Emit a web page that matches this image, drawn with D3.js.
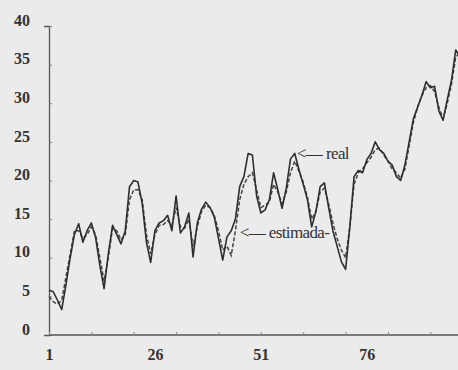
<!DOCTYPE html>
<html>
<head>
<meta charset="utf-8">
<script src="https://cdn.jsdelivr.net/npm/d3@7"></script>
<style>
  html, body { margin: 0; padding: 0; background: #ebebeb; }
  svg { display: block; }
</style>
</head>
<body>
<div id="chart"></div>
<script>
// Observation number for each sample (1..98)
const periods = d3.range(1, 99);

// Observed series (solid line)
const real = [
  5.8, 5.6, 4.5, 3.3, 6.5, 10, 13, 14.4, 12.0, 13.5,
  14.5, 12.6, 9, 6.0, 10.5, 14.2, 13.0, 11.8, 13.5, 19.2,
  20.0, 19.8, 17.0, 12, 9.4, 13.5, 14.5, 14.8, 15.5, 13.5,
  18.0, 13.2, 14.0, 15.8, 10.1, 14.5, 16.3, 17.2, 16.5, 15.3,
  12.5, 9.7, 12.7, 13.5, 15, 19.2, 20.5, 23.5, 23.3, 18,
  15.8, 16.2, 17.5, 21, 18.8, 16.4, 19, 22.8, 23.5, 21.4,
  19.5, 17.5, 14.0, 16, 19.2, 19.7, 16.5, 13.5, 11.5, 9.5,
  8.5, 14, 20.5, 21.3, 21, 22.7, 23.5, 25, 24, 23.5,
  22.5, 22, 20.5, 20, 22, 25, 28, 29.5, 31, 32.8,
  32, 32.2, 29, 27.8, 30.5, 33, 36.9, 36
];

// Fitted series (dashed line)
const estimada = [
  5.0, 4.3, 4.0, 4.5, 7.5, 10.5, 13.5, 13.5, 12.5, 13.0,
  14.0, 13.0, 10, 7.0, 10, 13.8, 13.5, 12.3, 13.0, 17.5,
  18.8, 18.8, 17.5, 13, 10.5, 13, 14.2, 14.3, 14.8, 14.2,
  16.5, 14, 13.8, 15, 11.5, 14, 16.0, 16.8, 16.5, 15.5,
  13.5, 11, 11.5, 10.3, 13.5, 17.5, 19.5, 20.5, 21, 18.8,
  16.5, 16.8, 17.2, 19.5, 18.5, 17, 18.5, 21, 22.5, 21.2,
  19.8, 17.8, 15, 16, 18.5, 19, 17, 14.5, 12.5, 11,
  10, 14, 19.5, 21, 21.5, 22.3, 23, 24, 24.2, 23.3,
  22.5, 21.5, 21, 20.3, 21.5, 24.5, 27.5, 29.5, 31, 32,
  32.3, 31.5, 29.5, 28, 30, 32.5, 36, 36.5
];

// Axis ticks and labels
const yTicks = [0, 5, 10, 15, 20, 25, 30, 35, 40];
const xTickMarks = [1, 11, 21, 31, 41, 51, 61, 71, 81, 91];
const xTickLabels = [1, 26, 51, 76];

const W = 458, H = 370;
const svg = d3.select("#chart").append("svg")
  .attr("width", W).attr("height", H);

const x = d3.scaleLinear().domain([1, 98]).range([49, 460]);
const y = d3.scaleLinear().domain([0, 40]).range([335, 26]);

const ink = "#333";
const font = "'Liberation Serif', 'DejaVu Serif', serif";

// Y axis
const yAxis = svg.append("g")
  .attr("transform", `translate(${x(1)},0)`)
  .call(d3.axisLeft(y).tickValues(yTicks).tickSize(5).tickPadding(14));
yAxis.select(".domain").attr("stroke", "#555").attr("stroke-width", 1.3);
yAxis.selectAll(".tick line").attr("stroke", "#777").attr("stroke-width", 1).attr("x2", 3);
yAxis.selectAll(".tick text")
  .attr("dy", "-0.05em")
  .attr("fill", ink)
  .style("font-family", font)
  .style("font-size", "16px")
  .style("font-weight", "bold");

// X axis: tick marks every 10 observations
const xAxis = svg.append("g")
  .attr("transform", `translate(0,${y(0)})`)
  .call(d3.axisBottom(x).tickValues(xTickMarks).tickSize(-3).tickFormat(""));
xAxis.select(".domain").attr("stroke", "#555").attr("stroke-width", 1.3)
  .attr("d", `M${x(1)},0H${W}`);
xAxis.selectAll(".tick line").attr("stroke", "#888").attr("stroke-width", 1);

// X axis labels
const xLab = svg.append("g")
  .attr("transform", `translate(0,${y(0)})`)
  .call(d3.axisBottom(x).tickValues(xTickLabels).tickSize(0).tickPadding(14).tickFormat(d3.format("d")));
xLab.select(".domain").remove();
xLab.selectAll(".tick text")
  .attr("fill", ink)
  .style("font-family", font)
  .style("font-size", "16px")
  .style("font-weight", "bold");

// Lines
const line = d3.line()
  .x((d, i) => x(periods[i]))
  .y(d => y(d));

svg.append("path")
  .datum(estimada)
  .attr("fill", "none")
  .attr("stroke", "#444")
  .attr("stroke-width", 1.5)
  .attr("stroke-dasharray", "4,2")
  .attr("d", line);

svg.append("path")
  .datum(real)
  .attr("fill", "none")
  .attr("stroke", "#2e2e2e")
  .attr("stroke-width", 1.6)
  .attr("stroke-linejoin", "round")
  .attr("d", line);

// Annotations
const ann = svg.append("g")
  .attr("fill", ink)
  .style("font-family", font)
  .style("font-size", "17px")
  .style("letter-spacing", "-0.6px");

ann.append("text")
  .attr("x", x(59.5))
  .attr("y", y(23.3) + 4)
  .text("<\u2014 real");

ann.append("text")
  .attr("x", x(46.0))
  .attr("y", y(12.6))
  .text("<\u2014 estimada-");
</script>
</body>
</html>
